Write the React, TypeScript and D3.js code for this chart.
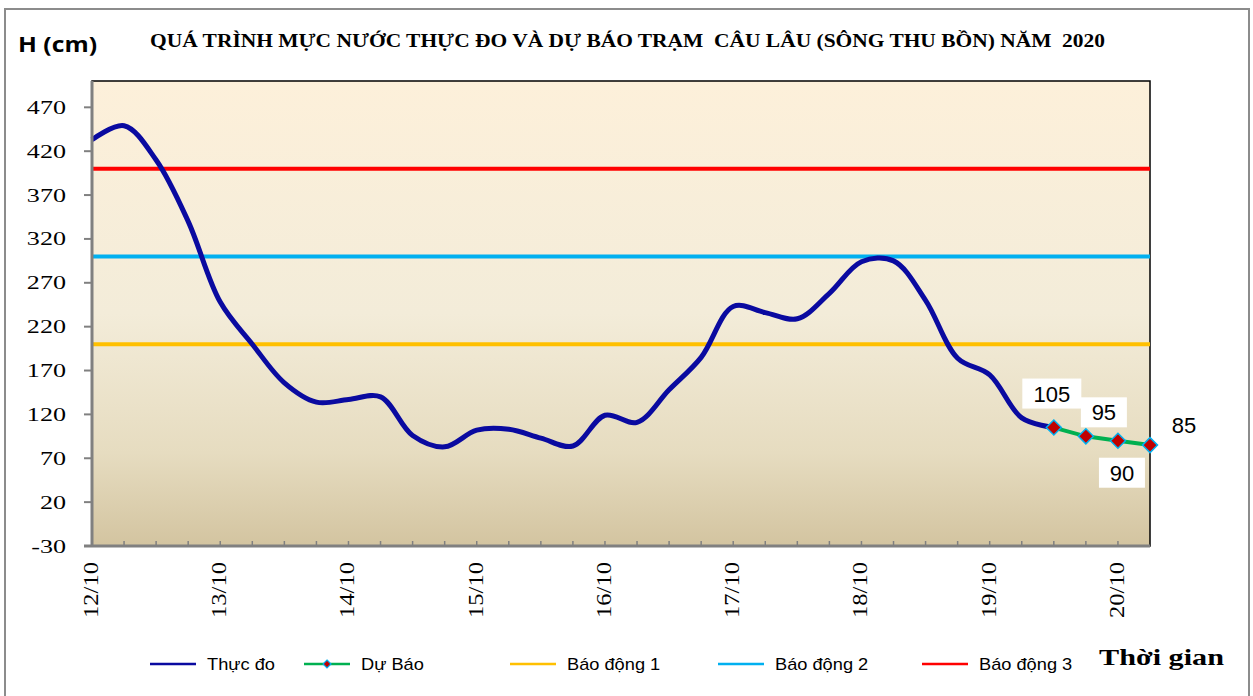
import React from 'react';
import * as d3 from 'd3';

// ---------- data ----------
const TITLE = 'QUÁ TRÌNH MỰC NƯỚC THỰC ĐO VÀ DỰ BÁO TRẠM  CÂU LÂU (SÔNG THU BỒN) NĂM  2020';
const Y_TITLE = 'H (cm)';
const X_TITLE = 'Thời gian';
const dayLabels = ['12/10', '13/10', '14/10', '15/10', '16/10', '17/10', '18/10', '19/10', '20/10'];
const STEPS_PER_DAY = 4; // 6-hourly observations
const N_STEPS = 34;
const yTicks = [-30, 20, 70, 120, 170, 220, 270, 320, 370, 420, 470];
const Y_MIN = -30;
const Y_MAX = 500;

// 6-hourly observed levels (cm)
const observed = [
  433, 449, 410, 340, 248, 200, 156, 134, 137, 140, 96, 83, 102, 103, 93, 84,
  119, 111, 148, 185, 243, 236, 229, 258, 294, 295, 250, 184, 165, 116, 105,
];
// forecast starts at the last observed step
const FORECAST_START = 30;
const forecast = [105, 95, 90, 85];

const alarmLevels = [200, 300, 400];
const alarmColors = ['#FFC000', '#00B0F0', '#FF0000'];

const legendLabels = ['Thực đo', 'Dự Báo', 'Báo động 1', 'Báo động 2', 'Báo động 3'];

// ---------- layout ----------
const W = 1253;
const H = 696;
const PL = 92, PR = 1150, PT = 81, PB = 546;
const OBS_COLOR = '#0A0AA0';
const FC_COLOR = '#00B050';
const SERIF = '"Liberation Serif", "Times New Roman", serif';
const SANS = '"Liberation Sans", Arial, sans-serif';
const labelOffsets: [number, number, boolean][] = [
  [-2, -34, true],
  [18, -24, true],
  [4, 32, true],
  [34, -20, false],
];
const legendX = [150, 304, 510, 718, 922];

export default function App() {
  const steps = d3.range(N_STEPS);
  const x = d3.scalePoint<number>().domain(steps).range([PL, PR]).padding(0);
  const y = d3.scaleLinear().domain([Y_MIN, Y_MAX]).range([PB, PT]);

  const obsLine = d3
    .line<number>()
    .x((_, i) => x(i) as number)
    .y((d) => y(d))
    .curve(d3.curveCatmullRom.alpha(0.5));

  const fcData = forecast.map((v, i) => ({ i: FORECAST_START + i, v }));
  const fcLine = d3
    .line<{ i: number; v: number }>()
    .x((d) => x(d.i) as number)
    .y((d) => y(d.v));

  const diamond = (cx: number, cy: number, r: number) =>
    `M${cx},${cy - r}L${cx + r},${cy}L${cx},${cy + r}L${cx - r},${cy}Z`;

  const legendColors = [OBS_COLOR, FC_COLOR, ...alarmColors];

  return (
    <svg
      width={W}
      height={H}
      style={{ position: 'absolute', left: 0, top: 0, background: '#fff' }}
    >
      <defs>
        <linearGradient id="bg" x1="0" y1="0" x2="0" y2="1">
          <stop offset="0%" stopColor="#FDF0DA" />
          <stop offset="50%" stopColor="#F3ECD9" />
          <stop offset="80%" stopColor="#E6DCC0" />
          <stop offset="100%" stopColor="#D3C4A0" />
        </linearGradient>
      </defs>

      {/* outer frame */}
      <rect x={5} y={9} width={1244} height={700} fill="#fff" stroke="#8C8C8C" strokeWidth={2} />

      {/* title */}
      <text
        x={150}
        y={47}
        fontFamily={SERIF}
        fontWeight="bold"
        fontSize={18}
        textLength={955}
        lengthAdjust="spacingAndGlyphs"
        style={{ whiteSpace: 'pre' }}
      >
        {TITLE}
      </text>
      <text
        x={18}
        y={52}
        fontFamily='"Open Sans", Arial, sans-serif'
        fontWeight="bold"
        fontSize={22}
        textLength={79}
        lengthAdjust="spacingAndGlyphs"
      >
        {Y_TITLE}
      </text>

      {/* plot area */}
      <rect x={PL} y={PT} width={PR - PL} height={PB - PT} fill="url(#bg)" stroke="#000" strokeWidth={1.5} />

      {/* alarm lines */}
      {alarmLevels.map((lv, k) => (
        <line key={k} x1={PL} x2={PR} y1={y(lv)} y2={y(lv)} stroke={alarmColors[k]} strokeWidth={4} />
      ))}

      {/* observed */}
      <path d={obsLine(observed) || ''} fill="none" stroke={OBS_COLOR} strokeWidth={5} strokeLinejoin="round" />

      {/* forecast */}
      <path d={fcLine(fcData) || ''} fill="none" stroke={FC_COLOR} strokeWidth={4} />
      {fcData.map((d) => (
        <path
          key={d.i}
          d={diamond(x(d.i) as number, y(d.v), 7.5)}
          fill="#C00000"
          stroke="#00B0F0"
          strokeWidth={1.5}
        />
      ))}

      {/* axes */}
      <line x1={PL} x2={PL} y1={PT} y2={PB} stroke="#808080" strokeWidth={3} />
      <line x1={PL - 8} x2={PR} y1={PB} y2={PB} stroke="#808080" strokeWidth={3} />
      {yTicks.map((t) => (
        <g key={t}>
          <line x1={PL - 8} x2={PL} y1={y(t)} y2={y(t)} stroke="#808080" strokeWidth={2} />
          <text
            transform={`translate(66,${y(t) + 6.5}) scale(1.45,1)`}
            textAnchor="end"
            fontFamily={SERIF}
            fontSize={18}
            fill="#000"
          >
            {t}
          </text>
        </g>
      ))}
      {steps.slice(1, N_STEPS - 1).map((i) => (
        <line key={i} x1={x(i)} x2={x(i)} y1={PB} y2={PB - 5} stroke="#808080" strokeWidth={1.5} />
      ))}
      {dayLabels.map((lab, k) => {
        const px = x(k * STEPS_PER_DAY) as number;
        return (
          <text
            key={lab}
            transform={`translate(${px + 6},562) rotate(-90)`}
            textAnchor="end"
            fontFamily={SERIF}
            fontSize={22}
            textLength={56}
            lengthAdjust="spacingAndGlyphs"
          >
            {lab}
          </text>
        );
      })}

      {/* data labels */}
      {fcData.map((d, k) => {
        const [dx, dy, box] = labelOffsets[k];
        const cx = (x(d.i) as number) + dx;
        const cy = y(d.v) + dy;
        const txt = String(d.v);
        const bw = txt.length * 13 + 20;
        return (
          <g key={d.i}>
            {box && <rect x={cx - bw / 2} y={cy - 15} width={bw} height={30} fill="#fff" />}
            <text x={cx} y={cy + 8} textAnchor="middle" fontFamily={SANS} fontSize={22} fill="#000">
              {txt}
            </text>
          </g>
        );
      })}

      {/* legend */}
      {legendLabels.map((lab, k) => {
        const lx = legendX[k];
        return (
          <g key={lab}>
            <line x1={lx} x2={lx + 46} y1={664} y2={664} stroke={legendColors[k]} strokeWidth={2.5} />
            {k === 1 && (
              <path d={diamond(lx + 23, 664, 4)} fill="#C00000" stroke="#00B0F0" strokeWidth={1.2} />
            )}
            <text
              transform={`translate(${lx + 57},669.5) scale(1.14,1)`}
              fontFamily={SANS}
              fontSize={16}
              fill="#000"
            >
              {lab}
            </text>
          </g>
        );
      })}
      <text
        x={1099}
        y={665}
        fontFamily={SERIF}
        fontWeight="bold"
        fontSize={23}
        textLength={125}
        lengthAdjust="spacingAndGlyphs"
      >
        {X_TITLE}
      </text>
    </svg>
  );
}
